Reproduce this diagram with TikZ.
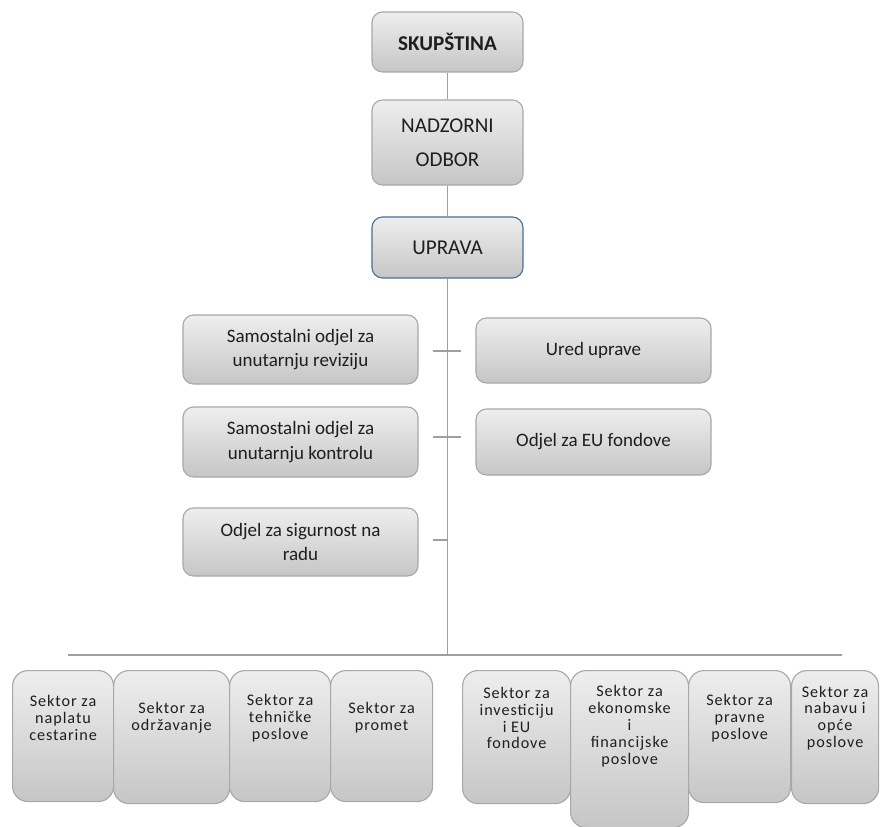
\documentclass[tikz,border=0pt]{standalone}
\usepackage{fontspec}
\setmainfont{Carlito}
\newfontfamily\sektorfont[LetterSpace=6]{Carlito}
\usetikzlibrary{calc}
\definecolor{orgline}{RGB}{160,160,160}
\definecolor{orgborder}{RGB}{168,168,168}
\definecolor{orgtop}{RGB}{238,238,238}
\definecolor{orgbottom}{RGB}{198,198,198}
\definecolor{orgblue}{RGB}{65,113,156}
\definecolor{orgtext}{RGB}{30,30,30}

\tikzset{
  orgbox/.style={draw=orgborder, line width=0.8pt, rounded corners=7.5pt,
    top color=orgtop, bottom color=orgbottom, text=orgtext, align=center, inner sep=0pt},
  topbox/.style={orgbox, minimum width=3.775cm, font=\fontsize{15}{24.5}\selectfont},
  odjelbox/.style={orgbox, minimum width=5.875cm, font=\fontsize{13.5}{17.7}\selectfont},
  sektorbox/.style={orgbox, rounded corners=11pt, anchor=north west},
  sektortext/.style={anchor=center, yshift=-1.2cm, align=center, text=orgtext,
    font=\sektorfont\fontsize{11.5}{12}\selectfont},
  orgconn/.style={draw=orgline, line width=1.1pt}
}

\begin{document}
\begin{tikzpicture}[x=0.025cm, y=-0.025cm]
\useasboundingbox (0,0) rectangle (880,827);

% uprava i nadzor
\node[topbox, minimum height=1.5cm, font=\fontsize{15}{24.5}\selectfont\bfseries] (skupstina) at (447.5,42) {SKUPŠTINA};
\node[topbox, minimum height=2.125cm] (nadzorni) at (447.5,142.5) {NADZORNI\\ODBOR};
\node[topbox, draw=orgblue, minimum height=1.525cm] (uprava) at (447.5,247.5) {UPRAVA};
\coordinate (split) at (447.5,655);
\coordinate (busL) at (68,655);
\coordinate (busR) at (842,655);

\draw[orgconn] (skupstina) -- (nadzorni);
\draw[orgconn] (nadzorni) -- (uprava);
\draw[orgconn] (uprava) -- (split);
\draw[orgconn] (busL) -- (busR);

% samostalni odjeli
\node[odjelbox, minimum height=1.725cm] (revizija) at (300.5,349.5) {Samostalni odjel za\\unutarnju reviziju};
\node[odjelbox, minimum height=1.625cm] (ured) at (593.5,350.5) {Ured uprave};
\node[odjelbox, minimum height=1.75cm] (kontrola) at (300.5,442) {Samostalni odjel za\\unutarnju kontrolu};
\node[odjelbox, minimum height=1.65cm] (eufondovi) at (593.5,442) {Odjel za EU fondove};
\node[odjelbox, minimum height=1.7cm] (sigurnost) at (300.5,542) {Odjel za sigurnost na\\radu};

\draw[orgconn] ($(revizija.east)+(14,1.5)$) -- ($(ured.west)+(-14,0.5)$);
\draw[orgconn] ($(kontrola.east)+(14,-5)$) -- ($(eufondovi.west)+(-14,-5)$);
\draw[orgconn] ($(sigurnost.east)+(14,-2)$) -- ($(sigurnost.east -| split)+(0,-2)$);

% sektori
\node[sektorbox, minimum width=2.525cm, minimum height=3.275cm,
  label={[sektortext]north:Sektor za\\naplatu\\cestarine}] (naplata) at (12,670) {};
\node[sektorbox, minimum width=2.9cm, minimum height=3.325cm,
  label={[sektortext]north:Sektor za\\održavanje}] (odrzavanje) at (113,670) {};
\node[sektorbox, minimum width=2.525cm, minimum height=3.275cm,
  label={[sektortext]north:Sektor za\\tehničke\\poslove}] (tehnicki) at (229,670) {};
\node[sektorbox, minimum width=2.55cm, minimum height=3.275cm,
  label={[sektortext]north:Sektor za\\promet}] (promet) at (330,670) {};
\node[sektorbox, minimum width=2.7cm, minimum height=3.325cm,
  label={[sektortext]north:Sektor za\\investiciju\\i EU\\fondove}] (investicije) at (462,670) {};
\node[sektorbox, minimum width=2.95cm, minimum height=3.925cm,
  label={[sektortext, yshift=-0.2cm]north:Sektor za\\ekonomske\\i\\financijske\\poslove}] (ekonomski) at (570,670) {};
\node[sektorbox, minimum width=2.55cm, minimum height=3.3cm,
  label={[sektortext]north:Sektor za\\pravne\\poslove}] (pravni) at (688,670) {};
\node[sektorbox, minimum width=2.175cm, minimum height=3.325cm,
  label={[sektortext]north:Sektor za\\nabavu i\\opće\\poslove}] (nabava) at (791,670) {};
\end{tikzpicture}
\end{document}
